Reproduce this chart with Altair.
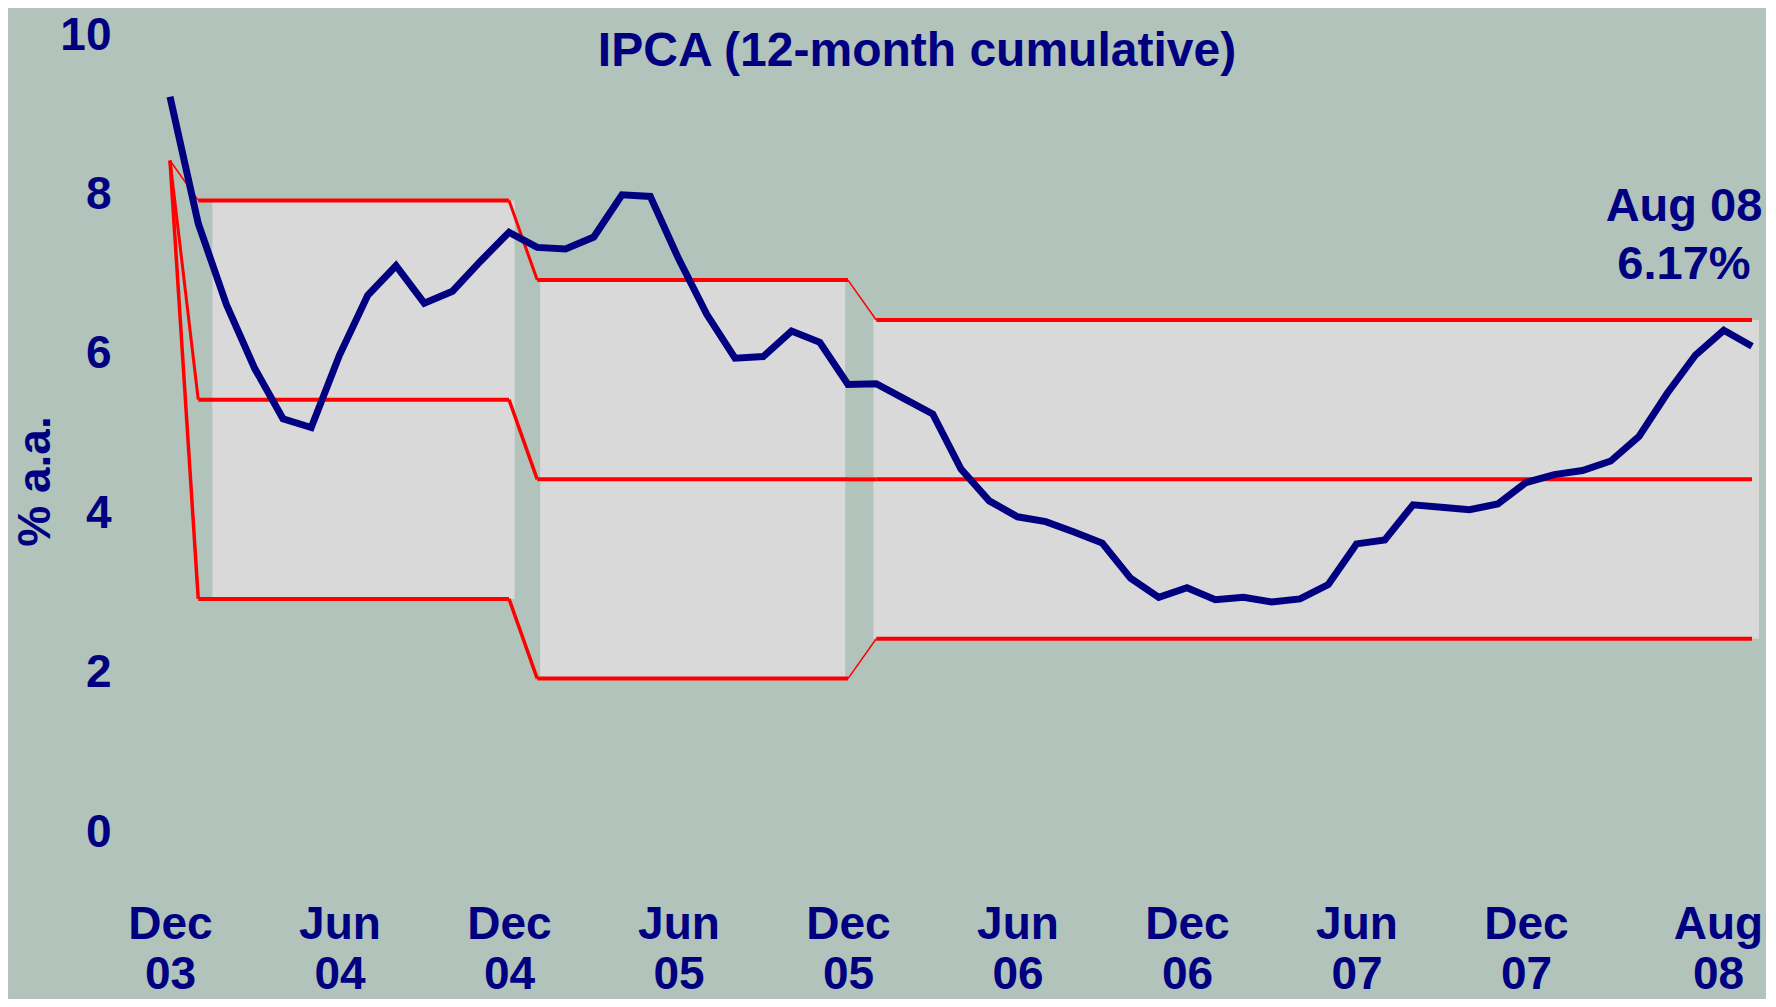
import altair as alt
import pandas as pd

# IPCA 12-month cumulative, Dec 03 .. Aug 08 (monthly)
ipca = [9.30, 7.71, 6.69, 5.89, 5.26, 5.15, 6.06, 6.81, 7.18, 6.71, 6.86, 7.24, 7.60,
        7.41, 7.39, 7.54, 8.07, 8.05, 7.27, 6.57, 6.02, 6.04, 6.36, 6.22, 5.69,
        5.70, 5.51, 5.32, 4.63, 4.23, 4.03, 3.97, 3.84, 3.70, 3.26, 3.02, 3.14,
        2.99, 3.02, 2.96, 3.00, 3.18, 3.69, 3.74, 4.18, 4.15, 4.12, 4.19, 4.46,
        4.56, 4.61, 4.73, 5.04, 5.58, 6.06, 6.37, 6.17]
month_index = list(range(len(ipca)))

# x axis ticks
tick_months = [0, 6, 12, 18, 24, 30, 36, 42, 48, 56]
tick_labels = ["Dec 03", "Jun 04", "Dec 04", "Jun 05", "Dec 05",
               "Jun 06", "Dec 06", "Jun 07", "Dec 07", "Aug 08"]

# inflation target: level at Dec 03, then one period per target year
target_dec03 = 8.5
period_start = [1, 13, 25]
period_end = [12, 24, 56]
period_upper = [8.0, 7.0, 6.5]
period_center = [5.5, 4.5, 4.5]
period_lower = [3.0, 2.0, 2.5]
# stroke widths of the connecting slants (upper, centre, lower) into each period
slant_width_upper = [1.5, 3.0, 1.5]
slant_width_center = [3.0, 3.5, 4.0]
slant_width_lower = [3.5, 3.5, 1.5]

# grey target boxes
box_start = [1.5, 13.1, 24.9]
box_end = [12.2, 23.9, 56.25]
box_top = [8.0, 7.0, 6.5]
box_bottom = [3.0, 2.0, 2.5]

NAVY = "#000080"
FONT = "Liberation Sans"

df_ipca = pd.DataFrame({"month": month_index, "ipca": ipca})

levels = {"upper": period_upper, "center": period_center, "lower": period_lower}
widths = {"upper": slant_width_upper, "center": slant_width_center, "lower": slant_width_lower}
flat_rows, slant_rows = [], []
for name, lv in levels.items():
    prev_x, prev_y = 0, target_dec03
    for i in range(len(period_start)):
        slant_rows.append({"x1": prev_x, "x2": period_start[i], "y1": prev_y, "y2": lv[i],
                           "w": widths[name][i]})
        flat_rows.append({"x1": period_start[i], "x2": period_end[i], "y1": lv[i], "y2": lv[i]})
        prev_x, prev_y = period_end[i], lv[i]
df_flat = pd.DataFrame(flat_rows)
df_slant = pd.DataFrame(slant_rows)

df_box = pd.DataFrame({"x1": box_start, "x2": box_end, "y1": box_bottom, "y2": box_top})
df_note = pd.DataFrame({"month": [month_index[-1]], "ipca": [ipca[-1]],
                        "note": [f"{tick_labels[-1]}\n{ipca[-1]:.2f}%"]})

label_expr = ""
for m, lab in zip(tick_months, tick_labels):
    a, b = lab.split(" ")
    label_expr += f"datum.value == {m} ? ['{a}', '{b}'] : "
label_expr += "''"

xscale = alt.Scale(domain=[0, 56], nice=False, zero=False)
yscale = alt.Scale(domain=[0, 10], nice=False)

xaxis = alt.Axis(values=tick_months, labelExpr=label_expr, grid=False, domain=False,
                 ticks=False, tickSize=0, labelFont=FONT, labelFontSize=46,
                 labelFontWeight="bold", labelColor=NAVY, labelPadding=86,
                 labelBaseline="middle", labelLineHeight=50, labelOverlap=False,
                 labelBound=False, labelFlush=False, title=None,
                 labelOffset={"condition": {"test": "datum.value == 56", "value": -34}, "value": 0})
yaxis = alt.Axis(values=[0, 2, 4, 6, 8, 10], format="d", grid=False, domain=False, ticks=False,
                 tickSize=0, labelFont=FONT, labelFontSize=46, labelFontWeight="bold",
                 labelColor=NAVY, labelPadding=59, labelOffset=-6, labelBaseline="middle",
                 title="% a.a.", titleFont=FONT, titleFontSize=46, titleFontWeight="bold",
                 titleColor=NAVY, titleAngle=-90, titleX=-135, titleY=440,
                 titleBaseline="middle", titleAlign="center")

boxes = alt.Chart(df_box).mark_rect(color="#d9d9d9").encode(
    x=alt.X("x1:Q", scale=xscale, axis=xaxis),
    x2="x2:Q",
    y=alt.Y("y1:Q", scale=yscale, axis=yaxis),
    y2="y2:Q",
)

flats = alt.Chart(df_flat).mark_rule(color="#ff0000", strokeWidth=4).encode(
    x=alt.X("x1:Q", scale=xscale), x2="x2:Q",
    y=alt.Y("y1:Q", scale=yscale), y2="y2:Q",
)

slants = alt.Chart(df_slant).mark_rule(color="#ff0000").encode(
    x=alt.X("x1:Q", scale=xscale), x2="x2:Q",
    y=alt.Y("y1:Q", scale=yscale), y2="y2:Q",
    strokeWidth=alt.StrokeWidth("w:Q", scale=None, legend=None),
)

line = alt.Chart(df_ipca).mark_line(color=NAVY, strokeWidth=7).encode(
    x=alt.X("month:Q", scale=xscale),
    y=alt.Y("ipca:Q", scale=yscale),
)

note = alt.Chart(df_note).mark_text(
    font=FONT, fontSize=47, fontWeight="bold", color=NAVY, align="center",
    baseline="middle", lineBreak="\n", lineHeight=58, dx=-68, dy=-139,
).encode(
    x=alt.X("month:Q", scale=xscale),
    y=alt.Y("ipca:Q", scale=yscale),
    text="note:N",
)

chart = alt.layer(boxes, slants, flats, line, note).properties(
    width=1582, height=797,
    background="#b1c3ba",
    autosize=alt.AutoSizeParams(type="none"),
    padding={"left": 162, "top": 33, "right": 14, "bottom": 161},
    title=alt.TitleParams(text="IPCA (12-month cumulative)", font=FONT, fontSize=48,
                          fontWeight="bold", color=NAVY, anchor="middle",
                          baseline="middle", dx=-44, dy=92),
).configure_view(stroke=None)

chart.save("out.html", embed_options={"renderer": "svg", "actions": False})
